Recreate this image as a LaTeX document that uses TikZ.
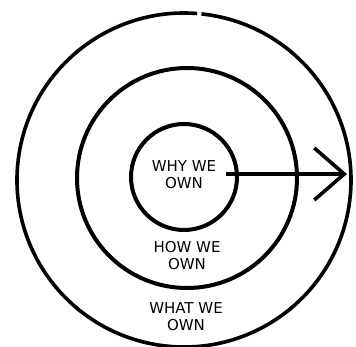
\documentclass[tikz,border=0pt]{standalone}
\usepackage{fontspec}
\setmainfont{DejaVu Sans}
\usetikzlibrary{arrows.meta}

\begin{document}
\begin{tikzpicture}[x=1pt, y=-1pt,
    ring/.style={draw=black, circle, line width=4pt, inner sep=0pt},
    label/.style={align=center, font=\fontsize{15}{17}\selectfont, inner sep=0pt},
    arr/.style={-{Straight Barb[length=30pt, width=52pt, line width=3.6pt]}, line width=3.8pt}
  ]
    \useasboundingbox (0,0) rectangle (356,347);

    \node[ring, minimum size=106pt] (why) at (184,177) {};
    \node[ring, minimum size=220pt] (how) at (187,178) {};
    % outer ring, with a small gap near the top
    \draw[line width=3.6pt] (184,180) ++(-84:167) arc[start angle=-84, end angle=274.5, radius=167];
    \coordinate (what) at (184,180);

    \node[label] (whytext)  at (184,174.5) {WHY WE\\OWN};
    \node[label] (howtext)  at (187,255.5) {HOW WE\\OWN};
    \node[label] (whattext) at (186,316.5) {WHAT WE\\OWN};

    \coordinate (tail) at (226,174);
    \coordinate (tip)  at (347,174);
    \draw[arr] (tail) -- (tip);
  \end{tikzpicture}
\end{document}
